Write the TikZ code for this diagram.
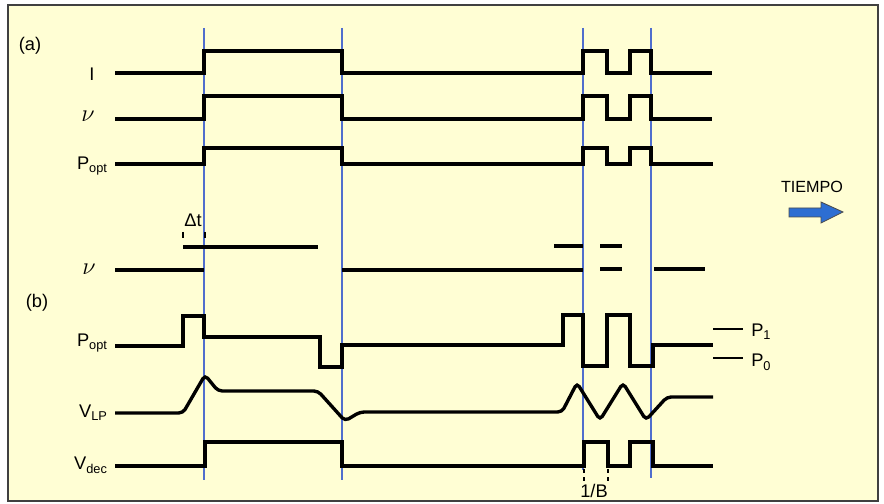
\documentclass[tikz,border=0pt]{standalone}
\usepackage{fontspec}
\setmainfont{Liberation Sans}
\usepackage{tikz}
\usetikzlibrary{shapes,arrows,positioning}
\definecolor{paper}{RGB}{255,254,212}
\definecolor{guideblue}{RGB}{80,110,205}
\definecolor{arrowblue}{RGB}{45,110,210}

\begin{document}
\begin{tikzpicture}[
    x=0.025cm, y=-0.025cm,
    sig/.style={line width=2.4pt, black},
    guide/.style={guideblue, line width=0.9pt},
    lbl/.style={font=\fontsize{13}{15}\selectfont, inner sep=0pt},
    nulbl/.style={font=\fontsize{17}{19}\selectfont, inner sep=0pt},
    tick/.style={line width=0.8pt, black}
]
\useasboundingbox (0,0) rectangle (884,504);
\draw[fill=paper, draw=black!75, line width=1.2pt] (8,5) rectangle (878,501);

\draw[guide] (204,28) -- (204,480);
\draw[guide] (342,28) -- (342,480);
\draw[guide] (583,28) -- (583,470);
\draw[guide] (651,28) -- (651,478);

\node[lbl] (la) at (30,46) {(a)};
\node[lbl] (lb) at (37,303) {(b)};

\node[lbl, anchor=base] (nI) at (92,81) {I};
\node[nulbl, anchor=base] (nNuA) at (88,122) {$\nu$};
\node[lbl, anchor=base east] (nPoptA) at (108,170) {P\textsubscript{opt}};
\node[nulbl, anchor=base] (nNuB) at (89,275) {$\nu$};
\node[lbl, anchor=base east] (nPoptB) at (108,347) {P\textsubscript{opt}};
\node[lbl, anchor=base east] (nVlp) at (108,418) {V\textsubscript{LP}};
\node[lbl, anchor=base east] (nVdec) at (108,470) {V\textsubscript{dec}};

\draw[sig] (115,73) -- (204,73) -- (204,51) -- (342,51) -- (342,73) -- (583,73) -- (583,51)
    -- (607,51) -- (607,73) -- (630,73) -- (630,51) -- (651,51) -- (651,73) -- (712,73);
\draw[sig] (115,119) -- (204,119) -- (204,96) -- (342,96) -- (342,119) -- (583,119) -- (583,96)
    -- (607,96) -- (607,119) -- (630,119) -- (630,96) -- (651,96) -- (651,119) -- (712,119);
\draw[sig] (115,164) -- (204,164) -- (204,148) -- (342,148) -- (342,164) -- (583,164) -- (583,148)
    -- (607,148) -- (607,164) -- (630,164) -- (630,148) -- (651,148) -- (651,164) -- (713,164);

\node[lbl, anchor=base] (ndt) at (193,227) {Δt};
\draw[tick] (183,232) -- (183,238);
\draw[tick] (205,232) -- (205,238);
\draw[sig] (183,247) -- (318,247);
\draw[sig] (115,270) -- (204,270);
\draw[sig] (342,270) -- (583,270);
\draw[sig] (554,246) -- (583,246);
\draw[sig] (600,246) -- (622,246);
\draw[sig] (600,269) -- (622,269);
\draw[sig] (654,269) -- (705,269);

\draw[sig] (115,346) -- (183,346) -- (183,316) -- (204,316) -- (204,337) -- (320,337) -- (320,367)
    -- (342,367) -- (342,345) -- (563,345) -- (563,315) -- (583,315) -- (583,366) -- (607,366)
    -- (607,315) -- (630,315) -- (630,366) -- (653,366) -- (653,345) -- (713,345);
\draw[sig, line width=1.8pt] (713,329) -- (743,329);
\draw[sig, line width=1.8pt] (713,358) -- (743,358);
\node[lbl, anchor=base west] (nP1) at (751,337) {P\textsubscript{1}};
\node[lbl, anchor=base west] (nP0) at (751,367) {P\textsubscript{0}};

\draw[sig, rounded corners=3pt] (115,413) -- (183,413) -- (205,375) -- (218,391) -- (318,391)
    -- (345,421) -- (360,412) -- (562,412) -- (577,383) -- (600,420) -- (623,383)
    -- (646,420) -- (667,397) -- (713,397);

\draw[sig] (115,466) -- (205,466) -- (205,442) -- (342,442) -- (342,466) -- (584,466) -- (584,442)
    -- (608,442) -- (608,466) -- (630,466) -- (630,442) -- (653,442) -- (653,466) -- (713,466);
\draw[tick, dashed] (584,469) -- (584,481);
\draw[tick, dashed] (608,469) -- (608,481);
\node[lbl, anchor=base] (nB) at (594,498) {1/B};

\node[lbl, font=\fontsize{11.5}{13}\selectfont] (ntime) at (812,187) {TIEMPO};
\draw[fill=arrowblue, draw=black!70, line width=0.6pt] (789,208) -- (821,208) -- (821,202) -- (843,212)
    -- (821,223) -- (821,217) -- (789,217) -- cycle;
\end{tikzpicture}
\end{document}
